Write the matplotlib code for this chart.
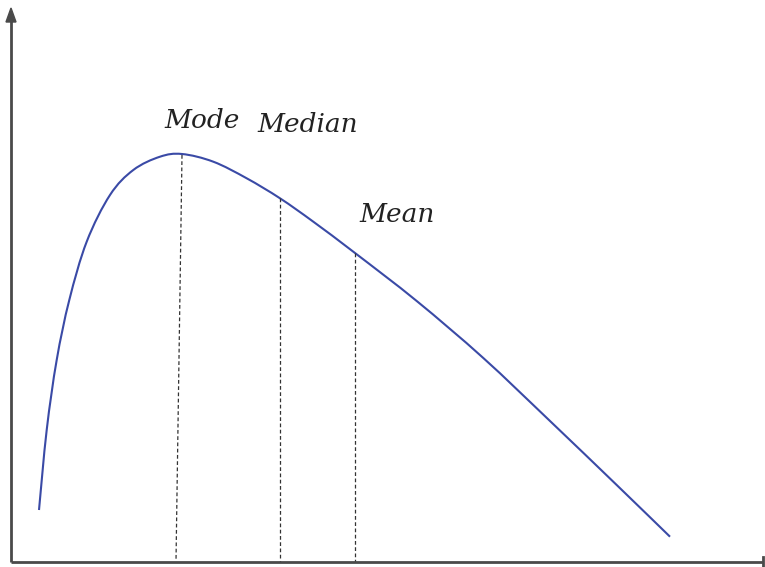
import matplotlib
matplotlib.use("Agg")
import matplotlib.pyplot as plt
from matplotlib.path import Path
from matplotlib.patches import PathPatch

# curve (pixel x, pixel y from the top)
curve_x = [39, 46.7, 56.7, 69.3, 86.7, 110, 133.3, 160, 182, 213.3, 246.7,
           280, 313.3, 355, 416.7, 483.3, 550, 616.7, 670]
curve_py = [510, 430, 360, 300, 241.7, 195, 170, 156.7, 154, 161.7, 178.3,
            198.3, 221.7, 253, 301, 358, 421, 485, 536.7]

# dashed markers
mark_names = ["Mode", "Median", "Mean"]
mark_top_x = [182, 280, 355]
mark_bot_x = [176, 280, 355]
mark_top_py = [155, 198.3, 253]
label_x = [202, 308, 397]
label_py = [120, 125, 215]


def smooth_path(xs, ys):
    "pass a smooth bezier through the traced points (catmull-rom style)"
    pts = list(zip(xs, ys))
    verts = [pts[0]]
    codes = [Path.MOVETO]
    n = len(pts)
    for i in range(n - 1):
        p0 = pts[i - 1] if i > 0 else pts[i]
        p1, p2 = pts[i], pts[i + 1]
        p3 = pts[i + 2] if i + 2 < n else pts[i + 1]
        c1 = (p1[0] + (p2[0] - p0[0]) / 6, p1[1] + (p2[1] - p0[1]) / 6)
        c2 = (p2[0] - (p3[0] - p1[0]) / 6, p2[1] - (p3[1] - p1[1]) / 6)
        verts += [c1, c2, p2]
        codes += [Path.CURVE4] * 3
    return Path(verts, codes)


W, H = 765, 567
fig = plt.figure(figsize=(7.65, 5.67), dpi=100)
ax = fig.add_axes([0, 0, 1, 1])
ax.set_xlim(0, W)
ax.set_ylim(H, 0)  # pixel-style y, growing downward
ax.axis("off")

# axes: arrow on y, end bar on x
axis_col = "#4a4a4a"
ax.plot([11, 763], [562, 562], color=axis_col, lw=2, solid_capstyle="butt")
ax.plot([763, 763], [557, 567], color=axis_col, lw=2)
ax.plot([11, 11], [562, 20], color=axis_col, lw=2, solid_capstyle="butt")
ax.fill([6, 16, 11], [22, 22, 8], color=axis_col)

ax.add_patch(PathPatch(smooth_path(curve_x, curve_py), fill=False,
                       edgecolor="#3a4aa6", lw=1.5))

for i, name in enumerate(mark_names):
    ax.plot([mark_top_x[i], mark_bot_x[i]], [mark_top_py[i], 561],
            color="#333333", lw=0.9, linestyle=(0, (3, 2)))
    ax.text(label_x[i], label_py[i], name, ha="center", va="center",
            fontsize=19, style="italic", family="DejaVu Serif", color="#222222")

fig.savefig("out.png", dpi=100)
